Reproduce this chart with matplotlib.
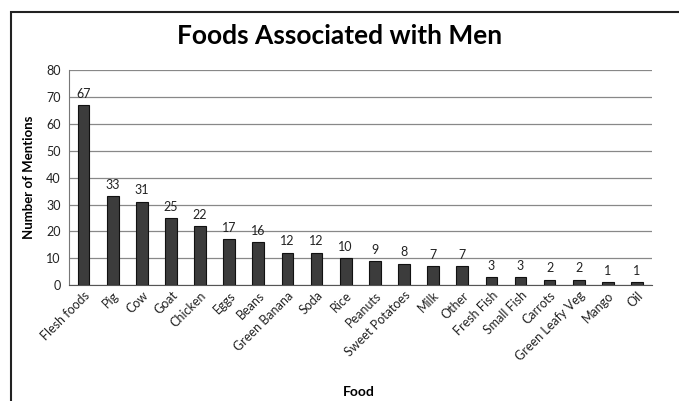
import matplotlib.pyplot as plt
import numpy as np
from matplotlib.patches import Rectangle

foods = ['Flesh foods', 'Pig', 'Cow', 'Goat', 'Chicken', 'Eggs', 'Beans',
         'Green Banana', 'Soda', 'Rice', 'Peanuts', 'Sweet Potatoes', 'Milk',
         'Other', 'Fresh Fish', 'Small Fish', 'Carrots', 'Green Leafy Veg',
         'Mango', 'Oil']
mentions = [67, 33, 31, 25, 22, 17, 16, 12, 12, 10, 9, 8, 7, 7, 3, 3, 2, 2, 1, 1]

plt.rcParams['font.family'] = ['Lato', 'DejaVu Sans']

fig = plt.figure(figsize=(6.79, 4.01), dpi=100)
ax = fig.add_axes([0.1016, 0.289, 0.858, 0.536])

x = np.arange(len(foods))
bars = ax.bar(x, mentions, width=0.4, color='#3c3c3c', edgecolor='#111111',
              linewidth=0.8, zorder=3)
for xi, v in zip(x, mentions):
    ax.text(xi, v + 2, str(v), ha='center', va='bottom', fontsize=9, color='#222222')

ax.set_xlim(-0.5, len(foods) - 0.5)
ax.set_ylim(0, 80)
ax.set_yticks(range(0, 81, 10))
ax.yaxis.grid(True, color='#888888', linewidth=0.9, zorder=0)
ax.tick_params(axis='y', length=0, labelsize=9, pad=6, labelcolor='#222222')
ax.tick_params(axis='x', length=0, labelsize=9, pad=3, labelcolor='#222222')
ax.set_xticks(x)
ax.set_xticklabels(foods, rotation=45, ha='right', rotation_mode='anchor')

for s in ['top', 'right']:
    ax.spines[s].set_visible(False)
ax.spines['left'].set_color('#777777')
ax.spines['bottom'].set_color('#555555')

ax.set_ylabel('Number of Mentions', fontsize=9.5, fontweight='bold', labelpad=8)
fig.text(0.529, 0.022, 'Food', ha='center', va='center', fontsize=10, fontweight='bold')
fig.text(0.5, 0.91, 'Foods Associated with Men', ha='center', va='center',
         fontsize=19, fontweight='bold')

# outer frame around the chart
fig.patches.append(Rectangle((10.5 / 679, -0.1), 1.2, 1.1 - 12.5 / 401,
                             transform=fig.transFigure, fill=False,
                             edgecolor='#222222', linewidth=1.5))

fig.savefig('out.png', dpi=100)
